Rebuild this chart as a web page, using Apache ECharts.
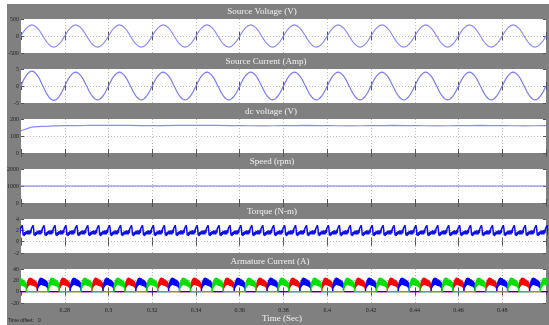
<!DOCTYPE html>
<html><head><meta charset="utf-8">
<script src="https://cdn.jsdelivr.net/npm/echarts@6/dist/echarts.min.js"></script>
<style>
html,body{margin:0;padding:0;background:#fff;}
#bg{position:absolute;left:7px;top:4px;width:542px;height:321px;background:#808080;}
#c{position:absolute;left:0;top:0;width:549px;height:325px;}
</style>
</head><body><div id="bg"></div><div id="c"></div>
<script>
// ---- time axis ----
const timeStart = 0.26, timeEnd = 0.50, timeTick = 0.02;
const xTickLabels = ['0.28','0.3','0.32','0.34','0.36','0.38','0.4','0.42','0.44','0.46','0.48'];

// ---- panel titles and y ranges ----
const panelTitles = ['Source Voltage (V)','Source Current (Amp)','dc voltage (V)','Speed (rpm)','Torque (N-m)','Armature Current (A)'];
const yMin = [-500, -5, 0, 0, -2, -20];
const yMax = [500, 5, 200, 2000, 4, 40];
const yTick = [500, 5, 100, 1000, 2, 20];

// ---- source voltage / current, sampled every 0.0025 s from t = 0.26 ----
const sampleStep = 0.0025;
const sourceVoltage = [
 0,233,330,233,0,-233,-330,-233, 0,233,330,233,0,-233,-330,-233,
 0,233,330,233,0,-233,-330,-233, 0,233,330,233,0,-233,-330,-233,
 0,233,330,233,0,-233,-330,-233, 0,233,330,233,0,-233,-330,-233,
 0,233,330,233,0,-233,-330,-233, 0,233,330,233,0,-233,-330,-233,
 0,233,330,233,0,-233,-330,-233, 0,233,330,233,0,-233,-330,-233,
 0,233,330,233,0,-233,-330,-233, 0,233,330,233,0,-233,-330,-233, 0];
const sourceCurrent = [
 0,3.2,4.4,3.1,0,-3.0,-4.2,-3.0, 0,2.9,4.1,2.9,0,-2.9,-4.1,-2.9,
 0,2.9,4.1,2.9,0,-2.9,-4.1,-2.9, 0,2.9,4.1,2.9,0,-2.9,-4.1,-2.9,
 0,2.9,4.1,2.9,0,-2.9,-4.1,-2.9, 0,2.9,4.1,2.9,0,-2.9,-4.1,-2.9,
 0,2.9,4.1,2.9,0,-2.9,-4.1,-2.9, 0,2.9,4.1,2.9,0,-2.9,-4.1,-2.9,
 0,2.9,4.1,2.9,0,-2.9,-4.1,-2.9, 0,2.9,4.1,2.9,0,-2.9,-4.1,-2.9,
 0,2.9,4.1,2.9,0,-2.9,-4.1,-2.9, 0,2.9,4.1,2.9,0,-2.9,-4.1,-2.9, 0];

// ---- dc voltage ----
const dcTimes = [0.26,0.262,0.265,0.27,0.275,0.28,0.29,0.30,0.31,0.32,0.33,0.34,0.35,0.36,0.37,0.38,0.39,0.40,0.41,0.42,0.43,0.44,0.45,0.46,0.47,0.48,0.49,0.50];
const dcVoltage = [131,140,152,157,159,161,162,163,162,161,162,163,162,161,160,161,162,161,160,161,162,161,160,161,162,161,160,161];

// ---- speed ----
const speedTimes = [0.26, 0.50];
const speedValues = [1000, 1000];

// ---- torque: one ripple period (0.005 s, 20 samples) ----
const torquePeriod = [1.4,1.9,1.3,2.0,1.3,1.9,1.3,2.1,1.5,2.3,2.0,2.6,2.9,2.3,1.1,1.5,1.0,1.7,1.2,1.8];
const torquePeriodLength = 0.005;
const torquePeriodStarts = [0.2575,0.2625,0.2675,0.2725,0.2775,0.2825,0.2875,0.2925,0.2975,0.3025,0.3075,0.3125,0.3175,0.3225,0.3275,0.3325,0.3375,0.3425,0.3475,0.3525,0.3575,0.3625,0.3675,0.3725,0.3775,0.3825,0.3875,0.3925,0.3975,0.4025,0.4075,0.4125,0.4175,0.4225,0.4275,0.4325,0.4375,0.4425,0.4475,0.4525,0.4575,0.4625,0.4675,0.4725,0.4775,0.4825,0.4875,0.4925,0.4975];

// ---- armature current: conduction lump shape (0.005 s) and lump start times per phase ----
const armLump = [0,14,6,18,8,21,10,23,11,24,12,25,12,24,12,24,11,23,11,22,10,22,10,21,9,20,9,19,8,18,7,16,6,0];
const armLumpLength = 0.005;
const armRedStarts = [0.2625,0.2775,0.2925,0.3075,0.3225,0.3375,0.3525,0.3675,0.3825,0.3975,0.4125,0.4275,0.4425,0.4575,0.4725,0.4875];
const armBlueStarts = [0.2675,0.2825,0.2975,0.3125,0.3275,0.3425,0.3575,0.3725,0.3875,0.4025,0.4175,0.4325,0.4475,0.4625,0.4775,0.4925];
const armGreenStarts = [0.2575,0.2725,0.2875,0.3025,0.3175,0.3325,0.3475,0.3625,0.3775,0.3925,0.4075,0.4225,0.4375,0.4525,0.4675,0.4825,0.4975];

// ---- build data tables ----
const sampled = vals => vals.map((v,i) => [timeStart + i*sampleStep, v]);
const paired = (ts, vs) => ts.map((t,i) => [t, vs[i]]);
function torqueData(){
  const out = [];
  torquePeriodStarts.forEach(s => torquePeriod.forEach((v,i) => out.push([s + i*torquePeriodLength/torquePeriod.length, v])));
  return out;
}
function armData(starts){
  const out = [[timeStart - 0.01, 0]];
  starts.forEach(s => {
    out.push([s, 0]);
    armLump.forEach((v,i) => out.push([s + i*armLumpLength/(armLump.length-1), v]));
  });
  out.push([timeEnd + 0.01, 0]);
  return out;
}

const FONT = 'Liberation Serif';
const gridTop0 = 19, gridStep = 50, gridH = 34;
const grids = [], xAxes = [], yAxes = [], graphics = [];
const titleCenters = [262, 266, 271, 272, 272, 270];
panelTitles.forEach((t, i) => {
  const top = gridTop0 + i*gridStep;
  grids.push({left: 21, right: 3, top: top, height: gridH, show: true, backgroundColor: '#ffffff', borderWidth: 0});
  const last = i === panelTitles.length - 1;
  xAxes.push({
    gridIndex: i, type: 'value', min: timeStart, max: timeEnd, interval: timeTick, position: 'bottom',
    axisLine: {show: false},
    axisTick: {show: true, inside: true, length: 4, lineStyle: {color: '#555', width: 1}},
    splitLine: {show: true, showMinLine: false, showMaxLine: false, lineStyle: {color: '#b8b8b8', type: [1, 2], width: 1}},
    axisLabel: {show: last, showMinLabel: false, showMaxLabel: false, fontFamily: FONT, fontSize: 6, color: '#222', margin: 4,
      formatter: v => { const s = xTickLabels.find(l => Math.abs(parseFloat(l) - v) < 1e-6); return s || ''; }}
  });
  xAxes.push({
    gridIndex: i, type: 'value', min: timeStart, max: timeEnd, interval: timeTick, position: 'top',
    axisLine: {show: false}, axisLabel: {show: false}, splitLine: {show: false},
    axisTick: {show: true, inside: true, length: 4, lineStyle: {color: '#555', width: 1}}
  });
  yAxes.push({
    gridIndex: i, type: 'value', min: yMin[i], max: yMax[i], interval: yTick[i], position: 'left',
    axisLine: {show: false},
    axisTick: {show: true, inside: true, length: 3, lineStyle: {color: '#555', width: 1}},
    splitLine: {show: true, showMinLine: false, showMaxLine: false, lineStyle: {color: '#b8b8b8', type: [1, 2], width: 1}},
    axisLabel: {fontFamily: FONT, fontSize: 6, color: '#222', margin: 2, formatter: v => String(v)}
  });
  yAxes.push({
    gridIndex: i, type: 'value', min: yMin[i], max: yMax[i], interval: yTick[i], position: 'right',
    axisLine: {show: false}, axisLabel: {show: false}, splitLine: {show: false},
    axisTick: {show: true, inside: true, length: 3, lineStyle: {color: '#555', width: 1}}
  });
  graphics.push({type: 'text', x: titleCenters[i], y: top - 7,
    style: {text: t, fill: '#f2f2f2', font: '9px "Liberation Serif"', textAlign: 'center', textVerticalAlign: 'middle'}});
});
graphics.push({type: 'text', x: 282, y: 319,
  style: {text: 'Time (Sec)', fill: '#f2f2f2', font: '9px "Liberation Serif"', textAlign: 'center', textVerticalAlign: 'middle'}});
graphics.push({type: 'text', x: 8, y: 321,
  style: {text: 'Time offset:   0', fill: '#1a1a1a', font: '5px "Liberation Sans"', textAlign: 'left', textVerticalAlign: 'middle'}});

const lineBase = {type: 'line', showSymbol: false, symbol: 'none', animation: false, clip: true};
const series = [
  Object.assign({}, lineBase, {name: 'Source Voltage', xAxisIndex: 0, yAxisIndex: 0, smooth: 0.45, data: sampled(sourceVoltage), lineStyle: {color: '#8a8af8', width: 1.2}}),
  Object.assign({}, lineBase, {name: 'Source Current', xAxisIndex: 2, yAxisIndex: 2, smooth: 0.45, data: sampled(sourceCurrent), lineStyle: {color: '#7c7cf4', width: 1.2}}),
  Object.assign({}, lineBase, {name: 'dc voltage', xAxisIndex: 4, yAxisIndex: 4, smooth: 0.3, data: paired(dcTimes, dcVoltage), lineStyle: {color: '#8a8af8', width: 1.2}}),
  Object.assign({}, lineBase, {name: 'Speed', xAxisIndex: 6, yAxisIndex: 6, data: paired(speedTimes, speedValues), lineStyle: {color: '#7474f4', width: 1.2}}),
  Object.assign({}, lineBase, {name: 'Torque', xAxisIndex: 8, yAxisIndex: 8, data: torqueData(), lineStyle: {color: '#1010ee', width: 1.5}}),
  Object.assign({}, lineBase, {name: 'Ia red', xAxisIndex: 10, yAxisIndex: 10, data: armData(armRedStarts), lineStyle: {color: '#ff0000', width: 1.3}}),
  Object.assign({}, lineBase, {name: 'Ia blue', xAxisIndex: 10, yAxisIndex: 10, data: armData(armBlueStarts), lineStyle: {color: '#0000ff', width: 1.3}}),
  Object.assign({}, lineBase, {name: 'Ia green', xAxisIndex: 10, yAxisIndex: 10, data: armData(armGreenStarts), lineStyle: {color: '#00e000', width: 1.3}})
];

const chart = echarts.init(document.getElementById('c'), null, {renderer: 'canvas'});
chart.setOption({
  animation: false,
  backgroundColor: 'transparent',
  grid: grids, xAxis: xAxes, yAxis: yAxes, series: series, graphic: graphics
});
</script></body></html>
